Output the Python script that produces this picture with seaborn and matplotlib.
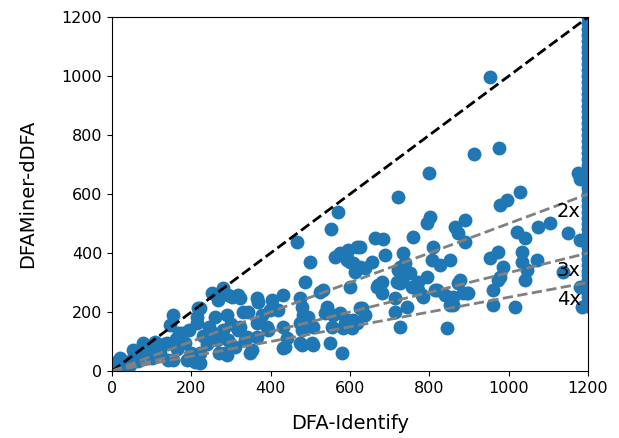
import matplotlib
matplotlib.use("Agg")
import matplotlib.pyplot as plt
import numpy as np
import pandas as pd
import seaborn as sns

TIMEOUT = 1200

# solved instances: (DFA-Identify time, DFAMiner-dDFA time)
dfa_identify = [
    3, 10, 20, 25, 35, 45, 53, 55, 65, 78, 85, 95, 100, 108, 115, 121, 130, 139, 141, 146,
    154, 154, 160, 165, 170, 176, 184, 189, 195, 198,
    209, 214, 217, 222, 222, 222, 214, 230, 240, 245, 252, 255, 260, 265, 267, 270, 280, 280,
    285, 290, 290, 292, 292, 300, 302, 310, 318, 318, 323, 323, 330, 335, 340, 342, 348,
    353, 365, 365, 365, 368, 378, 391, 393, 398, 403, 418, 431, 431, 431, 436, 441, 466, 474,
    474, 474, 479, 479, 479, 482, 486, 494, 499, 504, 507, 507, 524, 531, 537, 542, 549, 552,
    555, 557, 562, 570, 575, 575, 580, 582, 587, 592, 592, 592, 595,
    600, 600, 605, 607, 607, 612, 617, 617, 625, 625, 625, 630, 638, 638, 655, 663, 668, 671,
    681, 681, 683, 688, 713, 713, 718, 721, 721, 726, 726, 726, 731, 734, 739, 744, 744, 751,
    756, 759, 771, 771, 782, 784, 794, 794, 799, 802, 806,
    809, 814, 819, 827, 839, 844, 852, 852, 860, 860, 865, 872, 872, 877, 885, 890, 890, 895,
    897, 912, 953, 953, 960, 960, 973, 973, 975, 978, 978, 986, 995, 1016, 1021, 1028, 1033,
    1033, 1041, 1041, 1046, 1071, 1074, 1104, 1137, 1150, 1175, 1180, 1180, 1180, 1185,
]
dfaminer = [
    27, 8, 44, 15, 30, 20, 71, 50, 35, 95, 60, 80, 45, 98, 70, 61, 90, 95, 37, 156,
    190, 37, 110, 75, 130, 129, 95, 37, 140, 60,
    31, 163, 213, 214, 61, 27, 183, 120, 90, 150, 264, 129, 183, 105, 241, 60, 281, 140,
    61, 190, 54, 258, 105, 160, 251, 80, 258, 139, 247, 149, 200, 105, 115, 200, 61,
    71, 247, 163, 115, 234, 190, 149, 139, 207, 241, 207, 258, 149, 78, 81, 112, 437, 247,
    163, 95, 217, 139, 88, 190, 302, 183, 369, 95, 149, 88, 268, 275, 197, 217, 95, 481,
    149, 190, 386, 539, 400, 197, 61, 146, 163, 376, 403, 173, 410,
    369, 285, 146, 366, 173, 336, 421, 163, 420, 353, 213, 213, 349, 190, 369, 451, 285, 292,
    264, 302, 447, 393, 247, 200, 302, 590, 342, 353, 298, 149, 308, 400, 366, 332, 217, 332,
    285, 454, 302, 275, 258, 251, 502, 319, 671, 522, 376,
    420, 275, 275, 359, 258, 146, 376, 224, 251, 224, 488, 298, 468, 308, 264, 512, 437, 264,
    264, 737, 997, 383, 275, 224, 403, 308, 756, 563, 319, 353, 580, 217, 471, 607, 403,
    369, 451, 308, 342, 376, 488, 502, 336, 468, 671, 650, 444, 285, 217,
]
# instances where DFA-Identify timed out
timeout_dfaminer = [
    220, 235, 250, 265, 280, 295, 310, 325, 340, 360, 380, 400, 420, 440, 460, 480, 500,
    520, 540, 560, 580, 600, 620, 635, 650, 665, 680, 700, 720, 740, 760, 780, 800, 820,
    840, 860, 880, 900, 920, 940, 960, 980, 1000, 1020, 1040, 1060, 1080, 1100, 1120,
    1140, 1160, 1180, 1200,
]

ratios = [2, 3, 4]
label_y = [542, 342, 244]

df = pd.DataFrame({
    "DFA-Identify": dfa_identify + [TIMEOUT] * len(timeout_dfaminer),
    "DFAMiner-dDFA": dfaminer + timeout_dfaminer,
})

sns.set_style("ticks", rc={
    "axes.edgecolor": "black",
    "axes.labelcolor": "black",
    "text.color": "black",
    "xtick.color": "black",
    "ytick.color": "black",
})
plt.rcParams["font.family"] = ["DejaVu Sans"]

fig, ax = plt.subplots(figsize=(6.19, 4.38), dpi=100)
fig.subplots_adjust(left=0.181, right=0.950, bottom=0.153, top=0.961)

sns.scatterplot(data=df, x="DFA-Identify", y="DFAMiner-dDFA", ax=ax,
                color="#1f77b4", s=100, linewidth=0, alpha=1)

xs = np.array([0, TIMEOUT])
ax.plot(xs, xs, "--", color="black", lw=2)
for r, ly in zip(ratios, label_y):
    ax.plot(xs, xs / r, "--", color="gray", lw=2)
    ax.text(1121, ly, f"{r}x", fontsize=14, va="center", ha="left")

ax.set_xlim(0, TIMEOUT)
ax.set_ylim(0, TIMEOUT)
ax.set_xticks(range(0, 1201, 200))
ax.set_yticks(range(0, 1201, 200))
ax.tick_params(labelsize=11.5)
ax.set_xlabel("DFA-Identify", fontsize=14, labelpad=13)
ax.set_ylabel("DFAMiner-dDFA", fontsize=14, labelpad=18)

fig.savefig("out.png", dpi=100)
